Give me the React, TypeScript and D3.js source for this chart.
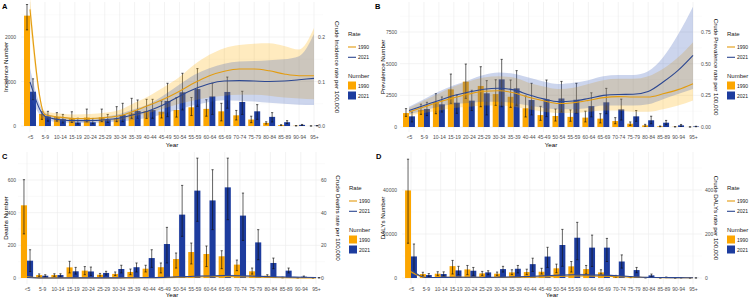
import React, { FC } from 'react';
import * as d3 from 'd3';

const ageGroups = [
  '<5', '5-9', '10-14', '15-19', '20-24', '25-29', '30-34', '35-39', '40-44', '45-49',
  '50-54', '55-59', '60-64', '65-69', '70-74', '75-79', '80-84', '85-89', '90-94', '95+',
];
const years = ['1990', '2021'];

// every entry: [estimate, lower, upper]
const incidenceNum1990 = [
  [2480, 2160, 2730], [270, 150, 320], [200, 110, 300], [175, 80, 320], [190, 95, 380],
  [195, 100, 380], [172, 97, 435], [285, 172, 622], [338, 172, 600], [322, 180, 560],
  [360, 200, 640], [420, 235, 640], [385, 220, 590], [330, 115, 510], [240, 135, 350],
  [145, 75, 220], [70, 45, 95], [20, 10, 30], [5, 2, 8], [1, 0.5, 2],
];
const incidenceNum2021 = [
  [770, 590, 1060], [215, 110, 330], [155, 70, 260], [80, 45, 175], [85, 50, 170],
  [140, 80, 260], [248, 97, 510], [338, 172, 585], [360, 172, 600], [562, 210, 960],
  [757, 360, 1185], [830, 440, 1290], [665, 260, 960], [765, 400, 1100], [540, 260, 780],
  [330, 150, 480], [205, 90, 300], [85, 55, 120], [25, 15, 35], [6, 3, 9],
];
const incidenceRate1990 = [
  [0.262, 0.23, 0.29], [0.026, 0.019, 0.033], [0.02, 0.013, 0.028], [0.017, 0.01, 0.026],
  [0.017, 0.01, 0.027], [0.019, 0.011, 0.03], [0.023, 0.013, 0.036], [0.034, 0.022, 0.052],
  [0.047, 0.03, 0.068], [0.061, 0.04, 0.088], [0.078, 0.05, 0.11], [0.097, 0.058, 0.138],
  [0.113, 0.064, 0.16], [0.123, 0.068, 0.175], [0.128, 0.07, 0.182], [0.128, 0.07, 0.185],
  [0.124, 0.068, 0.186], [0.117, 0.064, 0.18], [0.113, 0.062, 0.172], [0.113, 0.06, 0.22],
];
const incidenceRate2021 = [
  [0.099, 0.065, 0.13], [0.022, 0.015, 0.03], [0.014, 0.008, 0.02], [0.012, 0.007, 0.018],
  [0.012, 0.007, 0.018], [0.014, 0.008, 0.021], [0.018, 0.01, 0.027], [0.026, 0.014, 0.038],
  [0.035, 0.019, 0.05], [0.049, 0.028, 0.07], [0.067, 0.038, 0.093], [0.083, 0.047, 0.115],
  [0.095, 0.054, 0.13], [0.101, 0.058, 0.14], [0.102, 0.057, 0.145], [0.101, 0.055, 0.146],
  [0.1, 0.052, 0.148], [0.101, 0.05, 0.15], [0.104, 0.048, 0.157], [0.107, 0.047, 0.207],
];

const prevalenceNum1990 = [
  [1100, 840, 1450], [1350, 1000, 1800], [1970, 1050, 2630], [2970, 1870, 4180], [3580, 2260, 4970],
  [3240, 1600, 4760], [2600, 1710, 3730], [2390, 1550, 3710], [1480, 790, 2450], [940, 525, 1630],
  [870, 470, 1420], [800, 450, 1350], [740, 400, 1250], [660, 320, 1050], [470, 260, 740],
  [260, 130, 400], [130, 60, 210], [50, 25, 80], [15, 8, 25], [5, 2, 8],
];
const prevalenceNum2021 = [
  [840, 400, 1180], [1420, 900, 1950], [1790, 1180, 2370], [1920, 1080, 2520], [2080, 1300, 2900],
  [2660, 950, 3660], [3760, 1600, 5340], [3050, 1710, 4450], [2130, 950, 3450], [2180, 820, 3710],
  [2250, 1180, 3600], [2150, 1100, 3450], [1650, 800, 2700], [1950, 1050, 3050], [1390, 550, 2200],
  [840, 450, 1300], [530, 260, 850], [340, 180, 520], [130, 60, 200], [40, 20, 60],
];
const prevalenceRate1990 = [
  [0.118, 0.09, 0.15], [0.158, 0.11, 0.21], [0.197, 0.13, 0.265], [0.23, 0.15, 0.32],
  [0.26, 0.16, 0.36], [0.282, 0.17, 0.39], [0.286, 0.17, 0.4], [0.27, 0.16, 0.39],
  [0.235, 0.14, 0.35], [0.207, 0.12, 0.32], [0.185, 0.11, 0.3], [0.192, 0.11, 0.31],
  [0.21, 0.12, 0.34], [0.232, 0.13, 0.37], [0.24, 0.13, 0.38], [0.237, 0.12, 0.38],
  [0.237, 0.12, 0.4], [0.262, 0.14, 0.46], [0.295, 0.17, 0.55], [0.342, 0.21, 0.67],
];
const prevalenceRate2021 = [
  [0.13, 0.1, 0.16], [0.17, 0.13, 0.22], [0.21, 0.16, 0.28], [0.248, 0.18, 0.33],
  [0.276, 0.19, 0.37], [0.298, 0.2, 0.41], [0.306, 0.2, 0.43], [0.293, 0.19, 0.42],
  [0.255, 0.17, 0.39], [0.222, 0.15, 0.36], [0.2, 0.14, 0.34], [0.205, 0.14, 0.35],
  [0.225, 0.15, 0.37], [0.25, 0.17, 0.4], [0.257, 0.17, 0.41], [0.258, 0.17, 0.41],
  [0.28, 0.18, 0.44], [0.355, 0.22, 0.55], [0.447, 0.26, 0.73], [0.566, 0.3, 0.95],
];

const deathsNum1990 = [
  [445, 270, 602], [18, 10, 25], [18, 10, 26], [65, 31, 102], [45, 20, 70],
  [20, 12, 28], [25, 15, 37], [37, 20, 55], [57, 37, 78], [66, 31, 92],
  [116, 61, 153], [159, 86, 214], [147, 70, 196], [133, 57, 167], [82, 45, 110],
  [41, 24, 61], [14, 8, 20], [3, 1, 5], [1, 0.5, 2], [0.3, 0.1, 0.5],
];
const deathsNum2021 = [
  [106, 40, 173], [14, 6, 20], [18, 10, 26], [41, 24, 65], [40, 16, 67],
  [31, 18, 41], [55, 31, 78], [66, 37, 92], [122, 65, 173], [208, 92, 310],
  [388, 255, 567], [535, 347, 734], [475, 296, 663], [555, 357, 734], [382, 230, 520],
  [218, 112, 296], [92, 57, 122], [45, 31, 61], [8, 4, 12], [1, 0.5, 2],
];
const deathsRate1990 = [
  [0.7, 0.5, 0.9], [0.03, 0.02, 0.05], [0.03, 0.02, 0.05], [0.1, 0.06, 0.15], [0.08, 0.05, 0.12],
  [0.04, 0.02, 0.06], [0.06, 0.03, 0.09], [0.1, 0.06, 0.14], [0.17, 0.1, 0.24], [0.24, 0.14, 0.33],
  [0.45, 0.28, 0.6], [0.7, 0.45, 0.95], [0.8, 0.5, 1.05], [0.85, 0.55, 1.1], [0.75, 0.5, 1.0],
  [0.55, 0.35, 0.75], [0.3, 0.18, 0.42], [0.15, 0.08, 0.22], [0.1, 0.05, 0.16], [0.08, 0.04, 0.13],
];
const deathsRate2021 = [
  [0.3, 0.2, 0.42], [0.02, 0.01, 0.03], [0.03, 0.02, 0.04], [0.06, 0.04, 0.09], [0.06, 0.04, 0.09],
  [0.06, 0.04, 0.09], [0.1, 0.06, 0.14], [0.13, 0.08, 0.18], [0.22, 0.14, 0.3], [0.38, 0.25, 0.52],
  [0.75, 0.5, 1.0], [1.1, 0.75, 1.45], [1.25, 0.85, 1.65], [1.5, 1.0, 1.95], [1.4, 0.95, 1.85],
  [1.1, 0.75, 1.5], [0.8, 0.5, 1.1], [0.6, 0.38, 0.85], [0.5, 0.3, 0.75], [0.35, 0.2, 0.55],
];

const dalysNum1990 = [
  [39800, 15800, 54000], [1800, 1000, 2600], [1950, 1050, 2850], [5400, 1800, 8000], [3900, 1500, 5700],
  [2100, 1200, 3000], [1950, 1200, 2700], [2550, 1500, 3750], [2700, 1500, 4000], [2850, 1800, 4400],
  [4400, 2400, 6300], [5300, 2700, 7500], [4050, 1800, 5700], [2550, 1800, 3750], [750, 400, 1200],
  [300, 150, 500], [100, 50, 150], [30, 15, 50], [10, 5, 15], [5, 2, 8],
];
const dalysNum2021 = [
  [9800, 2250, 15450], [1350, 600, 2000], [1800, 900, 2800], [3450, 1500, 5300], [3300, 1200, 4800],
  [2550, 1500, 3300], [4050, 2700, 5300], [4200, 2300, 5700], [6300, 3000, 9000], [9750, 4800, 13950],
  [15000, 5300, 22100], [18300, 8300, 25300], [13800, 5250, 19500], [13800, 7500, 18000], [7500, 4500, 10500],
  [3600, 2400, 4800], [1200, 700, 1800], [300, 150, 450], [100, 50, 150], [30, 15, 45],
];
const dalysRate1990 = [
  [28, 22, 34], [2.5, 1.8, 3.2], [2.8, 2, 3.6], [4, 3, 5], [3.5, 2.6, 4.4],
  [2.5, 1.8, 3.2], [2.5, 1.8, 3.2], [3, 2.2, 3.8], [4, 3, 5], [5, 3.8, 6.2],
  [7, 5.2, 8.8], [9, 6.8, 11.2], [9, 6.8, 11.2], [8, 6, 10], [6, 4.5, 7.5],
  [4, 3, 5], [2.5, 1.8, 3.2], [1.5, 1, 2], [1, 0.6, 1.4], [0.8, 0.5, 1.1],
];
const dalysRate2021 = [
  [38, 30, 46], [2, 1.4, 2.6], [2.5, 1.8, 3.2], [3.5, 2.6, 4.4], [3.5, 2.6, 4.4],
  [3, 2.2, 3.8], [4, 3, 5], [5, 3.8, 6.2], [7, 5.2, 8.8], [10, 7.5, 12.5],
  [13, 9.8, 16.2], [15, 11.2, 18.8], [14, 10.5, 17.5], [13, 9.8, 16.2], [10, 7.5, 12.5],
  [6, 4.5, 7.5], [3, 2.2, 3.8], [2, 1.4, 2.6], [1.5, 1, 2], [1, 0.6, 1.4],
];

const barColors = ['#FCA600', '#1D3C9E'];
const lineColors = ['#E39C10', '#2C4791'];
const bandColors = ['#FFB000', '#3556B8'];
const font = '"Liberation Sans", Arial, sans-serif';

interface Panel {
  tag: string;
  yTitle: string;
  rTitle: string;
  num: number[][][];
  rate: number[][][];
  yTicks: number[];
  yMinor: number[];
  rTicks: number[];
  rFormat: (n: number) => string;
  k: number; // rate -> number scale factor for the secondary axis
}

const panels: Panel[] = [
  {
    tag: 'A', yTitle: 'Incidence Number', rTitle: 'Crude Incidence rate per 100,000',
    num: [incidenceNum1990, incidenceNum2021], rate: [incidenceRate1990, incidenceRate2021],
    yTicks: [0, 1000, 2000], yMinor: [500, 1500, 2500], rTicks: [0, 0.1, 0.2],
    rFormat: d3.format('.1f'), k: 10000,
  },
  {
    tag: 'B', yTitle: 'Prevalence Number', rTitle: 'Crude Prevalence rate per 100,000',
    num: [prevalenceNum1990, prevalenceNum2021], rate: [prevalenceRate1990, prevalenceRate2021],
    yTicks: [0, 2500, 5000, 7500], yMinor: [1250, 3750, 6250, 8750], rTicks: [0, 0.25, 0.5, 0.75],
    rFormat: d3.format('.2f'), k: 10000,
  },
  {
    tag: 'C', yTitle: 'Deaths Number', rTitle: 'Crude Deaths rate per 100,000',
    num: [deathsNum1990, deathsNum2021], rate: [deathsRate1990, deathsRate2021],
    yTicks: [0, 200, 400, 600], yMinor: [100, 300, 500, 700], rTicks: [0, 20, 40, 60],
    rFormat: d3.format('d'), k: 10,
  },
  {
    tag: 'D', yTitle: "DALYs Number", rTitle: "Crude DALYs rate per 100,000",
    num: [dalysNum1990, dalysNum2021], rate: [dalysRate1990, dalysRate2021],
    yTicks: [0, 20000, 40000], yMinor: [10000, 30000, 50000], rTicks: [0, 200, 400],
    rFormat: d3.format('d'), k: 100,
  },
];

const layouts = [
  { x0: 21, y0: 2, y1: 132, cat: [30, 314], zero: 126, topPx: 37, topVal: 2000, padL: 5, rLabelX: 318, titleLX: 5, titleRX: 337, legendX: 348, legendY: 0, tagX: 2, tagY: 6, yearX: 172, yearY: 144 },
  { x0: 400, y0: 2, y1: 132, cat: [409, 693], zero: 127, topPx: 32, topVal: 7500, padL: 3, rLabelX: 701, titleLX: 382, titleRX: 716, legendX: 727, legendY: 0, tagX: 375, tagY: 6, yearX: 551, yearY: 144 },
  { x0: 18, y0: 152, y1: 284, cat: [27, 316], zero: 278, topPx: 180, topVal: 600, padL: 2, rLabelX: 321, titleLX: 5, titleRX: 338, legendX: 349, legendY: 154, tagX: 2, tagY: 156, yearX: 172, yearY: 294 },
  { x0: 402, y0: 152, y1: 284, cat: [411, 693], zero: 278, topPx: 190, topVal: 40000, padL: 5, rLabelX: 705, titleLX: 382, titleRX: 716, legendX: 727, legendY: 154, tagX: 376, tagY: 156, yearX: 552, yearY: 294 },
];

type G = d3.Selection<SVGGElement, undefined, null, undefined>;

const drawPanel = (g: G, p: Panel, l: (typeof layouts)[number]) => {
  const x = d3.scalePoint<string>().domain(ageGroups).range(l.cat as [number, number]);
  const bw = x.step() * 0.4;
  const x1 = l.cat[1] + x.step() * 0.6;
  const y = d3.scaleLinear().domain([0, l.topVal]).range([l.zero, l.topPx]);
  const yr = y.copy().domain([0, l.topVal / p.k]);
  const cx = (i: number) => x(ageGroups[i]) as number;

  // grid
  const grid = g.append('g').attr('fill', 'none');
  grid
    .selectAll('line.minor')
    .data(p.yMinor.filter((v) => y(v) >= l.y0))
    .join('line')
    .attr('x1', l.x0).attr('x2', x1)
    .attr('y1', (d) => y(d)).attr('y2', (d) => y(d))
    .attr('stroke', '#F3F3F3').attr('stroke-width', 0.4);
  grid
    .selectAll('line.major')
    .data(p.yTicks)
    .join('line')
    .attr('x1', l.x0).attr('x2', x1)
    .attr('y1', (d) => y(d)).attr('y2', (d) => y(d))
    .attr('stroke', '#EBEBEB').attr('stroke-width', 0.6);
  grid
    .selectAll('line.vert')
    .data(ageGroups)
    .join('line')
    .attr('x1', (d) => x(d) as number).attr('x2', (d) => x(d) as number)
    .attr('y1', l.y0).attr('y2', l.y1)
    .attr('stroke', '#EBEBEB').attr('stroke-width', 0.6);

  // bars
  years.forEach((_, i) => {
    g.append('g')
      .selectAll('rect')
      .data(p.num[i])
      .join('rect')
      .attr('x', (_d, j) => cx(j) - bw + i * bw)
      .attr('y', (d) => y(d[0]))
      .attr('width', bw)
      .attr('height', (d) => Math.max(0, l.zero - y(d[0])))
      .attr('fill', barColors[i]);
  });

  // error bars
  years.forEach((_, i) => {
    const eb = g.append('g').attr('stroke', '#111').attr('stroke-opacity', 0.65).attr('stroke-width', 1);
    const data = p.num[i];
    const mid = (j: number) => cx(j) - bw / 2 + i * bw;
    eb.selectAll('line.v').data(data).join('line')
      .attr('x1', (_d, j) => mid(j)).attr('x2', (_d, j) => mid(j))
      .attr('y1', (d) => y(d[1])).attr('y2', (d) => y(d[2]));
    eb.selectAll('line.t').data(data).join('line')
      .attr('x1', (_d, j) => mid(j) - 1.1).attr('x2', (_d, j) => mid(j) + 1.1)
      .attr('y1', (d) => y(d[2])).attr('y2', (d) => y(d[2]));
    eb.selectAll('line.b').data(data).join('line')
      .attr('x1', (_d, j) => mid(j) - 1.1).attr('x2', (_d, j) => mid(j) + 1.1)
      .attr('y1', (d) => y(d[1])).attr('y2', (d) => y(d[1]));
  });

  // rate bands and lines
  years.forEach((_, i) => {
    const area = d3
      .area<number[]>()
      .x((_d, j) => cx(j))
      .y0((d) => yr(d[1]))
      .y1((d) => yr(d[2]))
      .curve(d3.curveMonotoneX);
    g.append('path').datum(p.rate[i]).attr('d', area)
      .attr('fill', bandColors[i]).attr('fill-opacity', 0.25);
  });
  years.forEach((_, i) => {
    const line = d3
      .line<number[]>()
      .x((_d, j) => cx(j))
      .y((d) => yr(d[0]))
      .curve(d3.curveMonotoneX);
    g.append('path').datum(p.rate[i]).attr('d', line)
      .attr('fill', 'none').attr('stroke', lineColors[i]).attr('stroke-width', 1.1);
  });

  // axes
  const styleAxis = (a: G) =>
    a.call((s) => s.select('.domain').remove())
      .attr('font-size', 5).attr('font-family', font).attr('color', '#4D4D4D');
  g.append('g')
    .attr('transform', `translate(${l.x0},0)`)
    .call(d3.axisLeft(y).tickValues(p.yTicks).tickFormat(d3.format('d')).tickSize(0).tickPadding(l.padL))
    .call(styleAxis);
  g.append('g')
    .attr('transform', `translate(${l.rLabelX},0)`)
    .call(d3.axisRight(yr).tickValues(p.rTicks).tickFormat((d) => p.rFormat(d as number)).tickSize(0).tickPadding(0))
    .call(styleAxis);
  g.append('g')
    .attr('transform', `translate(0,${l.y1})`)
    .call(d3.axisBottom(x).tickSize(0).tickPadding(3))
    .call(styleAxis);

  // titles
  const midY = (l.y0 + l.y1) / 2;
  g.append('text')
    .attr('transform', `translate(${l.titleLX},${midY}) rotate(-90)`)
    .attr('text-anchor', 'middle').attr('dominant-baseline', 'central')
    .attr('font-size', 6.2).text(p.yTitle);
  g.append('text')
    .attr('transform', `translate(${l.titleRX},${midY}) rotate(90)`)
    .attr('text-anchor', 'middle').attr('dominant-baseline', 'central')
    .attr('font-size', 6.2).text(p.rTitle);
  g.append('text')
    .attr('x', l.yearX).attr('y', l.yearY)
    .attr('text-anchor', 'middle').attr('dominant-baseline', 'central')
    .attr('font-size', 6.2).text('Year');
  g.append('text')
    .attr('x', l.tagX).attr('y', l.tagY)
    .attr('dominant-baseline', 'central')
    .attr('font-size', 7.5).attr('font-weight', 'bold').text(p.tag);

  // legend
  const lg = g.append('g').attr('transform', `translate(${l.legendX},${l.legendY})`);
  lg.append('text').attr('y', 33.5).attr('dominant-baseline', 'central')
    .attr('font-size', 6).attr('fill', '#222').text('Rate');
  lg.append('text').attr('y', 75.5).attr('dominant-baseline', 'central')
    .attr('font-size', 6).attr('fill', '#222').text('Number');
  years.forEach((yy, i) => {
    const ly = 47 + i * 10.3;
    lg.append('line').attr('x1', 0).attr('x2', 8).attr('y1', ly).attr('y2', ly)
      .attr('stroke', lineColors[i]).attr('stroke-width', 1.1);
    lg.append('text').attr('x', 10).attr('y', ly).attr('dominant-baseline', 'central')
      .attr('font-size', 5).attr('fill', '#222').text(yy);
    const by = 85.5 + i * 10;
    lg.append('rect').attr('x', 0).attr('y', by - 4).attr('width', 8).attr('height', 8)
      .attr('fill', barColors[i]);
    lg.append('text').attr('x', 10).attr('y', by).attr('dominant-baseline', 'central')
      .attr('font-size', 5).attr('fill', '#222').text(yy);
  });
};

const chart = () => {
  const svg = d3
    .create('svg')
    .attr('width', 750)
    .attr('height', 298)
    .attr('viewBox', '0 0 750 298')
    .attr('font-family', font)
    .style('display', 'block');
  svg.append('rect').attr('width', 750).attr('height', 298).attr('fill', '#fff');
  panels.forEach((p, i) => drawPanel(svg.append('g') as unknown as G, p, layouts[i]));
  return svg.node() as SVGSVGElement;
};

const App: FC = () => (
  <div
    style={{ position: 'absolute', left: 0, top: 0, width: 750, height: 298 }}
    ref={(elem) => {
      if (!elem) {
        return;
      }
      elem.innerHTML = '';
      elem.appendChild(chart());
    }}
  />
);

export default App;
